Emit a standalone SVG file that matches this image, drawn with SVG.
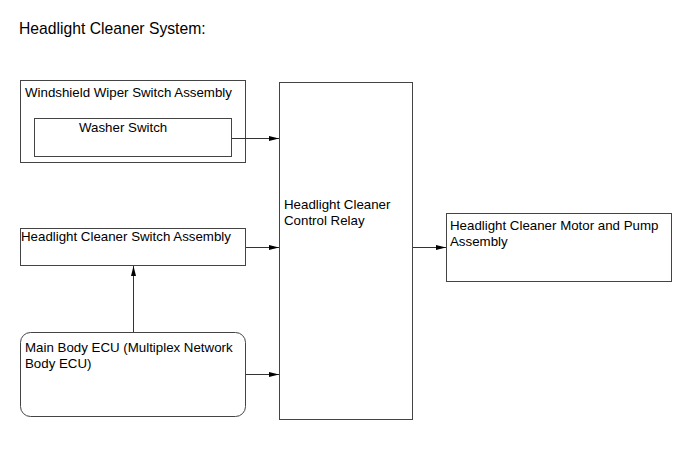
<svg xmlns="http://www.w3.org/2000/svg" width="690" height="465" viewBox="0 0 690 465">
<style>
.b{fill:#fff;stroke:#444;stroke-width:1}
.t{font-family:"Liberation Sans",Arial,sans-serif;font-size:13.3px;fill:#000}
.c{stroke:#333;stroke-width:1;fill:none;marker-end:url(#ah)}
</style>
<defs>
<marker id="ah" markerWidth="10" markerHeight="6" refX="10" refY="3" orient="auto" markerUnits="userSpaceOnUse">
<path d="M0,0.5 L10,3 L0,5.5 Z" fill="#000"/>
</marker>
</defs>
<rect width="690" height="465" fill="#fff"/>
<text x="19" y="34" class="t" style="font-size:15.7px">Headlight Cleaner System:</text>
<g id="wiper">
<rect class="b" x="20.5" y="80.5" width="225" height="82"/>
<text class="t" x="25" y="97">Windshield Wiper Switch Assembly</text>
</g>
<g id="washer">
<rect class="b" x="34.5" y="118.5" width="197" height="38"/>
<text class="t" x="79" y="132">Washer Switch</text>
</g>
<g id="hcswitch">
<rect class="b" x="20.5" y="228.5" width="225" height="37"/>
<text class="t" x="21" y="241">Headlight Cleaner Switch Assembly</text>
</g>
<g id="ecu">
<rect class="b" x="20.5" y="332.5" width="225" height="84" rx="10"/>
<text class="t" x="25" y="352">Main Body ECU (Multiplex Network</text>
<text class="t" x="25" y="368">Body ECU)</text>
</g>
<g id="relay">
<rect class="b" x="279.5" y="82.5" width="133" height="337"/>
<text class="t" x="284" y="209">Headlight Cleaner</text>
<text class="t" x="284" y="225">Control Relay</text>
</g>
<g id="motor">
<rect class="b" x="446.5" y="213.5" width="225" height="68"/>
<text class="t" x="450" y="230">Headlight Cleaner Motor and Pump</text>
<text class="t" x="450" y="246">Assembly</text>
</g>
<g id="connectors">
<line class="c" x1="232" y1="138.5" x2="279" y2="138.5"/>
<line class="c" x1="246" y1="247.5" x2="279" y2="247.5"/>
<line class="c" x1="246" y1="374.5" x2="279" y2="374.5"/>
<line class="c" x1="133.5" y1="332" x2="133.5" y2="266"/>
<line class="c" x1="413" y1="247.5" x2="446" y2="247.5"/>
</g>
</svg>
